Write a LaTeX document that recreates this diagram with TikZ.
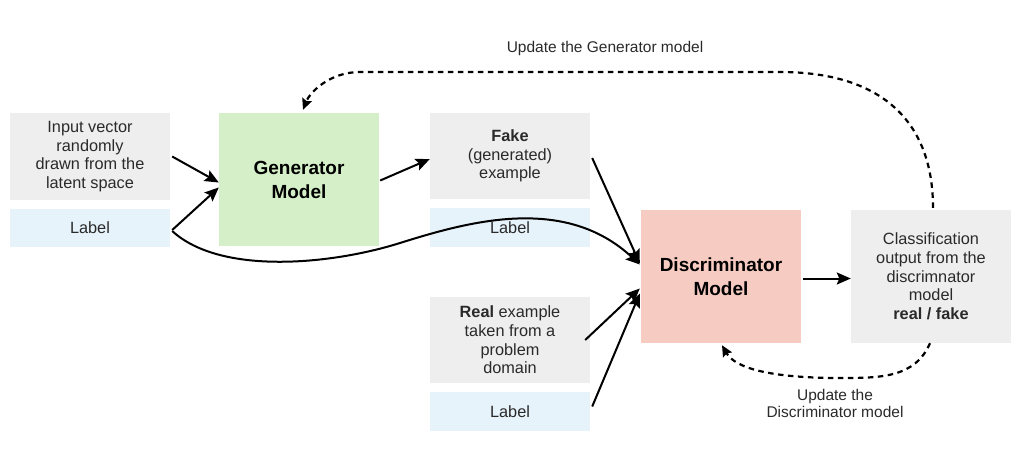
\documentclass[tikz,border=0pt]{standalone}
\usepackage{fontspec}
\setmainfont{Liberation Sans}
\usetikzlibrary{arrows.meta,calc}
\definecolor{boxgray}{HTML}{EEEEEE}
\definecolor{boxblue}{HTML}{E7F3FB}
\definecolor{boxgreen}{HTML}{D5F0C8}
\definecolor{boxpink}{HTML}{F6CBC2}
\definecolor{txt}{HTML}{2A2A2A}
\tikzset{
  box/.style={draw=none, minimum width=160pt, inner sep=2pt, align=center,
    text=txt, font=\fontsize{16.3}{18.7}\selectfont},
  graybox/.style={box, fill=boxgray},
  bluebox/.style={box, fill=boxblue},
  modelbox/.style={box, minimum height=133pt, text=black,
    font=\fontsize{19}{24}\selectfont\bfseries},
  conn/.style={line width=2pt, -{Stealth[length=14pt,width=12pt,inset=2.5pt]}},
  upd/.style={line width=2.2pt, dash pattern=on 5.5pt off 4.5pt,
    -{Stealth[length=11pt,width=10pt,inset=1.5pt]}},
  lbl/.style={align=center, text=txt, font=\fontsize{15.5}{17.5}\selectfont}
}
\begin{document}
\begin{tikzpicture}[x=1pt,y=-1pt]
\useasboundingbox (0,0) rectangle (1026,453);
\node[graybox, minimum height=87pt] (inp) at (90,156.5) {Input vector\\randomly\\drawn from the\\latent space};
\node[bluebox, minimum height=38pt] (lab1) at (90,228) {Label};
\node[modelbox, fill=boxgreen] (gen) at (299,179.5) {Generator\\Model};
\node[graybox, minimum height=86pt] (fake) at (510,156) {\textbf{Fake}\\(generated)\\example};
\node[bluebox, minimum height=39pt] (lab2) at (510,227.5) {Label};
\node[modelbox, fill=boxpink] (disc) at (721,276.5) {Discriminator\\Model};
\node[graybox, minimum height=133pt] (cls) at (931,276.5) {Classification\\output from the\\discrimnator\\model\\\textbf{real / fake}};
\node[graybox, minimum height=86pt] (real) at (510,340) {\textbf{Real} example\\taken from a\\problem\\domain};
\node[bluebox, minimum height=39pt] (lab3) at (510,411.5) {Label};
\node[lbl] (updg) at (605,48) {Update the Generator model};
\node[lbl] (updd) at (835,403.5) {Update the\\Discriminator model};

\draw[conn] ($(inp.east)+(2,0)$) -- ($(gen.west)+(0,3)$);
\draw[conn] ($(lab1.east)+(2,2)$) -- ($(gen.west)+(0,8)$);
\draw[conn] ($(lab1.east)+(2,3)$) .. controls (220,275) and (330,265) .. (400,243)
   .. controls (470,221) and (565,195) .. ($(disc.west)+(-1,-12)$);
\draw[conn] ($(gen.east)+(1,1)$) -- ($(fake.west)+(0,3)$);
\draw[conn] ($(fake.east)+(2,2)$) -- ($(disc.west)+(-1,-13)$);
\draw[conn] ($(real.east)+(-5,0)$) -- ($(disc.west)+(-1,12)$);
\draw[conn] ($(lab3.east)+(2,-5)$) -- ($(disc.west)+(-1,17)$);
\draw[conn] ($(disc.east)+(2,2)$) -- ($(cls.west)+(0,2)$);

\draw[upd] ($(cls.north)+(2,-2)$) .. controls (933,120) and (880,72) .. (780,72)
   -- (360,72) .. controls (330,72) and (310,92) .. ($(gen.north)+(4,-3)$);
\draw[upd] ($(cls.south)+(-1,0)$) .. controls (915,378) and (880,378) .. (840,378)
   .. controls (770,378) and (735,368) .. ($(disc.south)+(1,2)$);
\end{tikzpicture}
\end{document}
